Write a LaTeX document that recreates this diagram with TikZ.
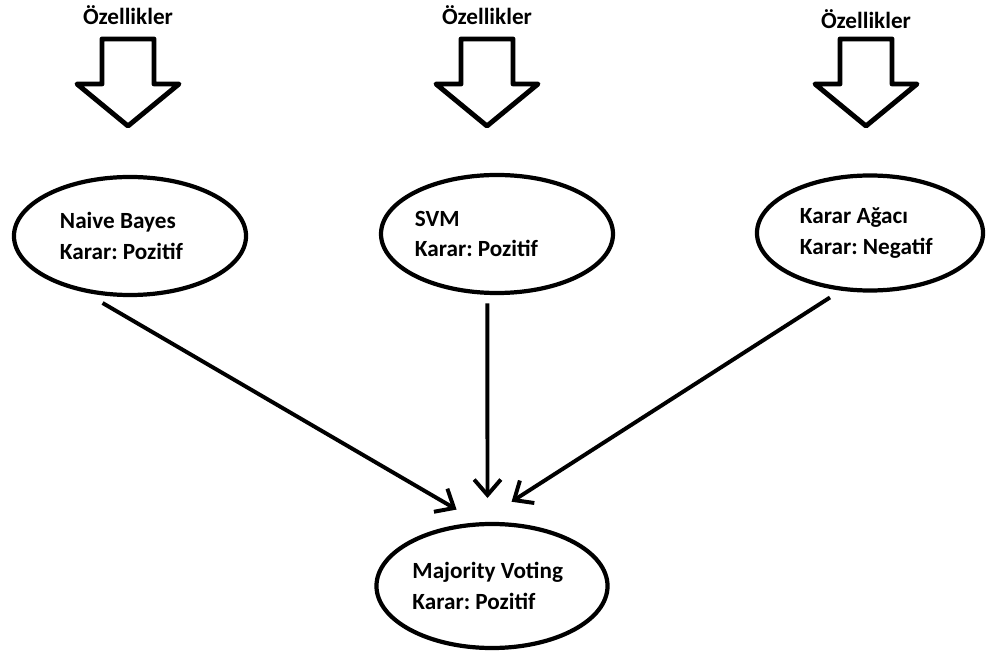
\documentclass[tikz,border=0pt]{standalone}
\usepackage{fontspec}
\setmainfont{Carlito}
\usetikzlibrary{arrows.meta,shapes.geometric}

\begin{document}
\begin{tikzpicture}[x=0.025cm,y=-0.025cm,
  model/.style={ellipse,draw,line width=3pt,align=left,inner sep=0pt,
    font=\fontsize{16.5}{22}\selectfont\bfseries,
    execute at begin node={\frenchspacing\spaceskip=0pt\xspaceskip=0pt}},
  vote/.style={-{Straight Barb[length=11pt,width=19pt]},line width=2.8pt},
  feat/.style={font=\fontsize{16.5}{19}\selectfont\bfseries,anchor=base}]
  \useasboundingbox (0,0) rectangle (987,655);
  % Features going into each classifier
  \foreach \x/\ty/\n in {128/25/f1,487/25/f2,866/29/f3}{
    \node[feat] (\n) at (\x,\ty) {Özellikler};
    \draw[line width=3.5pt,line join=round]
      (\x-26,39) -- (\x+26,39) -- (\x+26,84) -- (\x+51,84)
      -- (\x,126) -- (\x-51,84) -- (\x-26,84) -- cycle;
  }
  % Classifiers
  \node[model,minimum width=5.8cm,minimum height=2.95cm,text width=3.5cm]
    (nb) at (130,236) {Naive Bayes\\Karar: Pozitif};
  \node[model,minimum width=5.65cm,minimum height=2.95cm,text width=4.1cm]
    (svm) at (497,234) {SVM\\Karar: Pozitif};
  \node[model,minimum width=5.65cm,minimum height=2.875cm,text width=3.5cm]
    (ka) at (870,233) {Karar Ağacı\\Karar: Negatif};
  % Vote
  \node[model,minimum width=5.775cm,minimum height=3.1cm,text width=3.975cm]
    (mv) at (492,586) {Majority Voting\\Karar: Pozitif};
  \draw[vote,shorten <=15pt,shorten >=18pt] (nb.231) -- (mv.102);
  \draw[vote,shorten <=6pt,shorten >=17pt] (svm.261) -- (mv.94);
  \draw[vote,shorten <=9pt,shorten >=27pt] (ka.243) -- (mv.101);
\end{tikzpicture}
\end{document}
